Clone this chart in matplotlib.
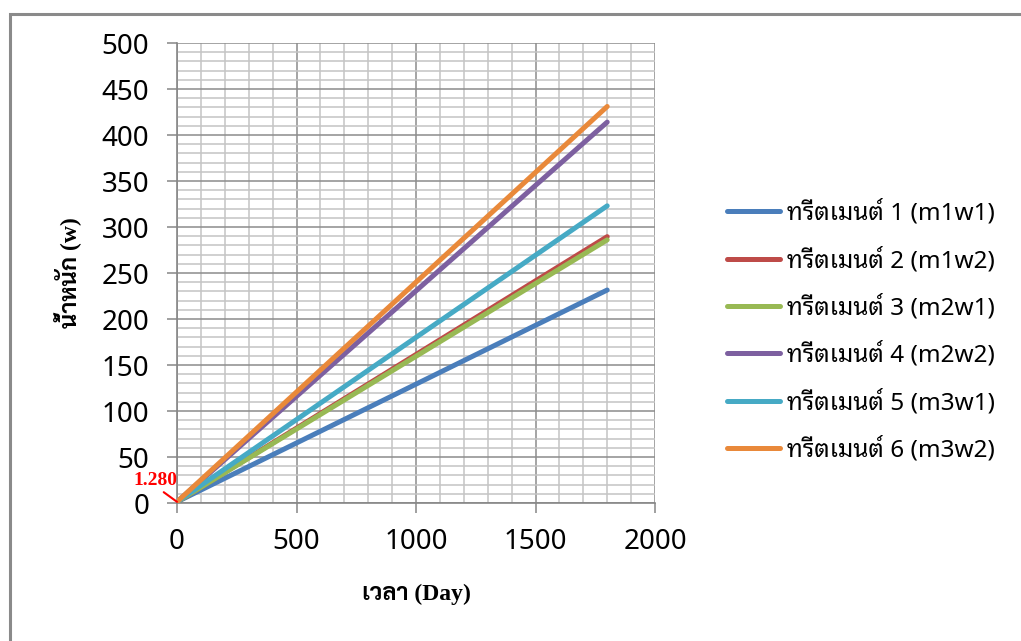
import matplotlib
matplotlib.use("Agg")
import matplotlib.pyplot as plt
from matplotlib.patches import Rectangle
from matplotlib.ticker import MultipleLocator

sans = ["Noto Sans Thai", "Noto Sans"]
looped = ["Noto Sans Thai Looped", "Noto Sans"]
serif = ["Liberation Serif", "Sarabun"]

# ข้อมูล: น้ำหนัก (w) ที่วันเริ่มต้นและวันที่ 1800
days = [0, 1800]
w1 = [1.28, 231.5]   # ทรีตเมนต์ 1 (m1w1)
w2 = [1.28, 289.5]   # ทรีตเมนต์ 2 (m1w2)
w3 = [1.28, 286.0]   # ทรีตเมนต์ 3 (m2w1)
w4 = [1.28, 414.0]   # ทรีตเมนต์ 4 (m2w2)
w5 = [1.28, 323.0]   # ทรีตเมนต์ 5 (m3w1)
w6 = [1.28, 431.0]   # ทรีตเมนต์ 6 (m3w2)
series = [w1, w2, w3, w4, w5, w6]
labels = ["ทรีตเมนต์ 1 (m1w1)", "ทรีตเมนต์ 2 (m1w2)", "ทรีตเมนต์ 3 (m2w1)",
          "ทรีตเมนต์ 4 (m2w2)", "ทรีตเมนต์ 5 (m3w1)", "ทรีตเมนต์ 6 (m3w2)"]
colors = ["#4A7EBB", "#BE4B48", "#98B954", "#7D60A0", "#46AAC5", "#E9893A"]
start_label = "1.280"

fig = plt.figure(figsize=(10.21, 6.41), dpi=100)
ax = fig.add_axes([177 / 1021, 1 - 503 / 641, 478 / 1021, 460 / 641])

for y, lab, c in zip(series, labels, colors):
    ax.plot(days, y, color=c, linewidth=3.6, solid_capstyle="round", label=lab, zorder=3)

ax.set_xlim(0, 2000)
ax.set_ylim(0, 500)
ax.xaxis.set_major_locator(MultipleLocator(500))
ax.xaxis.set_minor_locator(MultipleLocator(100))
ax.yaxis.set_major_locator(MultipleLocator(50))
ax.yaxis.set_minor_locator(MultipleLocator(10))
ax.grid(which="major", color="#8c8c8c", linewidth=1.1, zorder=1)
ax.grid(which="minor", color="#c4c4c4", linewidth=1.1, zorder=1)
ax.set_axisbelow(True)

for s in ["top", "right"]:
    ax.spines[s].set_visible(False)
for s in ["left", "bottom"]:
    ax.spines[s].set_color("#868686")
    ax.spines[s].set_linewidth(1.2)

ax.tick_params(which="major", direction="out", length=7, width=1.1, color="#868686",
               labelsize=20, colors="#868686", labelcolor="black")
ax.tick_params(axis="y", pad=13)
ax.tick_params(axis="x", pad=11)
ax.tick_params(which="minor", length=0)
for t in ax.get_xticklabels() + ax.get_yticklabels():
    t.set_family(sans)

ax.set_ylabel("น้ำหนัก (w)", family=serif, fontsize=17, fontweight="bold", labelpad=14)
ax.set_xlabel("เวลา (Day)", family=serif, fontsize=17, fontweight="bold", labelpad=20)

ax.annotate(start_label, xy=(days[0], w1[0]), xytext=(-90, 24), textcoords="data",
            ha="center", va="center", color="red", fontsize=14, fontweight="bold",
            family=serif, annotation_clip=False,
            arrowprops=dict(arrowstyle="-", color="red", lw=1.5, relpos=(0.6, 0.0),
                            shrinkA=0, shrinkB=0))

fig.legend(loc="center left", bbox_to_anchor=(727 / 1021, 1 - 331.5 / 641),
           frameon=False, prop={"family": looped, "size": 17.5},
           handlelength=2.2, handletextpad=0.25, labelspacing=0.9,
           borderpad=0, borderaxespad=0)

# กรอบรอบแผนภูมิ (เห็นเฉพาะด้านซ้ายและด้านบน)
fig.add_artist(Rectangle((9.5 / 1021, -0.2), 1.2, 1.2 - 13.5 / 641, transform=fig.transFigure,
                         fill=False, edgecolor="#8a8a8a", linewidth=2.2))

fig.savefig("out.png", dpi=100)
